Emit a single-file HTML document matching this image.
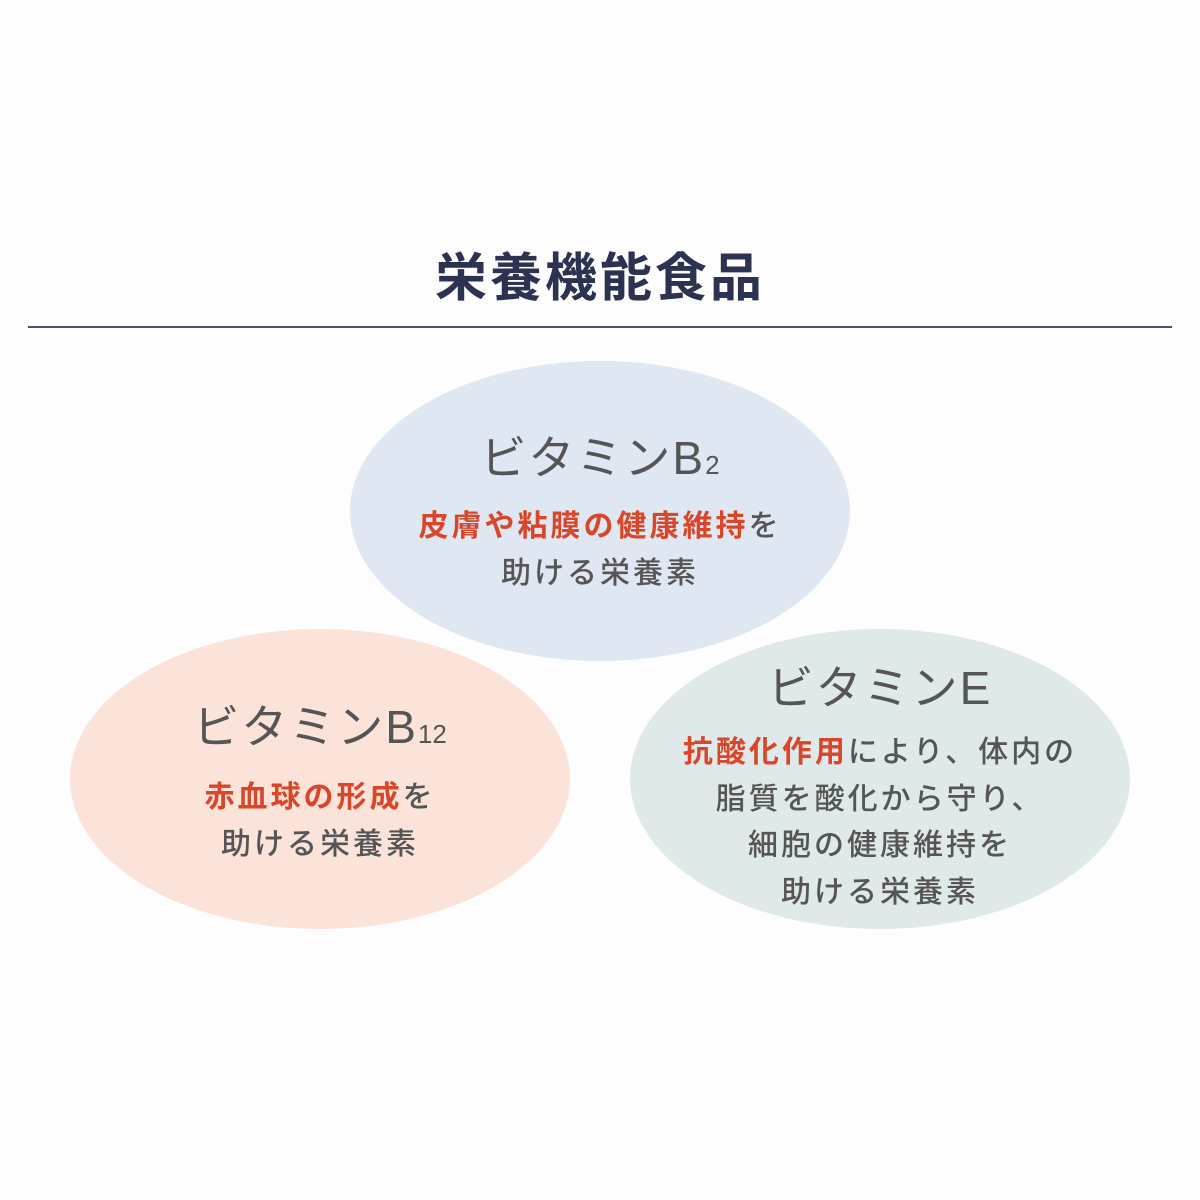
<!DOCTYPE html>
<html><head><meta charset="utf-8"><style>
body{margin:0;width:1200px;height:1200px;background:#fdfdfd;position:relative;overflow:hidden;font-family:"Liberation Sans","Noto Sans CJK JP",sans-serif}
.t{position:absolute;left:0;width:1200px;text-align:center;top:236px;font-size:52px;font-weight:bold;color:#2b3350;letter-spacing:3px}
.line{position:absolute;left:28px;top:326px;width:1144px;height:2px;background:#4a5272}
.e{position:absolute;width:500px;height:300px;border-radius:50%}
.c{position:absolute;width:600px;text-align:center;color:#555;font-weight:500}
.h{font-size:46px;letter-spacing:2px;line-height:60px;font-weight:400}
.h sub{font-size:26px;vertical-align:baseline;letter-spacing:0}
.s{font-size:30px;letter-spacing:3px;line-height:47px}
.r{color:#d9472b;font-weight:700}
</style></head><body>
<div class="t">栄養機能食品</div>
<div class="line"></div>
<div class="e" style="left:350px;top:361px;background:#dfe7f3"></div>
<div class="e" style="left:70px;top:629px;background:#fbe3da"></div>
<div class="e" style="left:630px;top:629px;background:#dfe9e9"></div>
<div class="c" style="left:300px;top:428px"><div class="h">ビタミンB<sub>2</sub></div><div class="s" style="margin-top:8px"><span class="r">皮膚や粘膜の健康維持</span>を<br>助ける栄養素</div></div>
<div class="c" style="left:20px;top:697px"><div class="h">ビタミンB<sub>12</sub></div><div class="s" style="margin-top:10px"><span class="r">赤血球の形成</span>を<br>助ける栄養素</div></div>
<div class="c" style="left:580px;top:658px"><div class="h">ビタミンE</div><div class="s" style="margin-top:12px;line-height:46.5px"><span class="r">抗酸化作用</span>により、体内の<br>脂質を酸化から守り、<br>細胞の健康維持を<br>助ける栄養素</div></div>
</body></html>
